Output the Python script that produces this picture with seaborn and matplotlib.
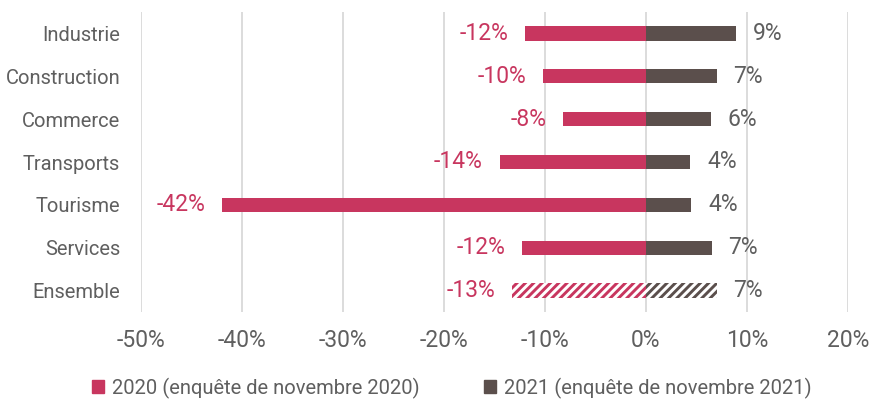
import matplotlib
matplotlib.use("Agg")
import matplotlib.pyplot as plt
from matplotlib.patches import Patch
import seaborn as sns
import pandas as pd

secteurs = ["Industrie", "Construction", "Commerce", "Transports", "Tourisme", "Services", "Ensemble"]
v2020 = [-12.0, -10.2, -8.2, -14.5, -42.0, -12.3, -13.3]
v2021 = [8.9, 7.0, 6.4, 4.4, 4.5, 6.5, 7.0]
lab2020 = ["-12%", "-10%", "-8%", "-14%", "-42%", "-12%", "-13%"]
lab2021 = ["9%", "7%", "6%", "4%", "4%", "7%", "7%"]
series = ["2020 (enquête de novembre 2020)", "2021 (enquête de novembre 2021)"]
xticks = [-50, -40, -30, -20, -10, 0, 10, 20]

C20 = "#C8365F"
C21 = "#5B4F4C"
TXT = "#5F5F5F"

sns.set_theme(style="white")
plt.rcParams["font.family"] = ["Roboto", "DejaVu Sans"]
plt.rcParams["hatch.linewidth"] = 2.1

df = pd.DataFrame({
    "secteur": secteurs * 2,
    "valeur": v2020 + v2021,
    "serie": [series[0]] * len(secteurs) + [series[1]] * len(secteurs),
})

fig = plt.figure(figsize=(8.69, 4.03), dpi=100)
ax = fig.add_axes([141 / 869, 1 - 312 / 403, (848 - 141) / 869, 300 / 403])

sns.barplot(data=df, y="secteur", x="valeur", hue="serie", dodge=False,
            palette=[C20, C21], width=0.335, orient="h", ax=ax, legend=False,
            saturation=1)

n = len(secteurs)
for i, p in enumerate(ax.patches[:2 * n]):
    col = C20 if i < n else C21
    p.set_linewidth(0)
    if i % n == n - 1:
        p.set_facecolor("white")
        p.set_edgecolor(col)
        p.set_hatch("////")

ax.set_xlim(-50, 20)
ax.set_ylim(6.5, -0.5)
ax.set_xticks(xticks)
ax.set_xticklabels([f"{t}%" for t in xticks])
ax.grid(axis="x", color="#D9D9D9", linewidth=1.3)
ax.set_axisbelow(True)
for s in ax.spines.values():
    s.set_visible(False)
ax.set_xlabel("")
ax.set_ylabel("")
ax.tick_params(axis="both", length=0, labelcolor=TXT)
ax.tick_params(axis="x", pad=12, labelsize=16.5)
ax.tick_params(axis="y", pad=15, labelsize=14.5)

for i in range(n):
    ax.annotate(lab2020[i], (v2020[i], i), xytext=(-12, 0), textcoords="offset points",
                ha="right", va="center", fontsize=16.5, color=C20)
    ax.annotate(lab2021[i], (v2021[i], i), xytext=(12, 0), textcoords="offset points",
                ha="left", va="center", fontsize=16.5, color=TXT)

handles = [Patch(color=C20), Patch(color=C21)]
fig.legend(handles, series, loc="center", bbox_to_anchor=(0.52, 1 - 388 / 403),
           ncol=2, frameon=False, fontsize=14.5, labelcolor=TXT, handlelength=0.6,
           handleheight=0.6, handletextpad=0.4, columnspacing=3.2)

fig.savefig("out.png", dpi=100)
